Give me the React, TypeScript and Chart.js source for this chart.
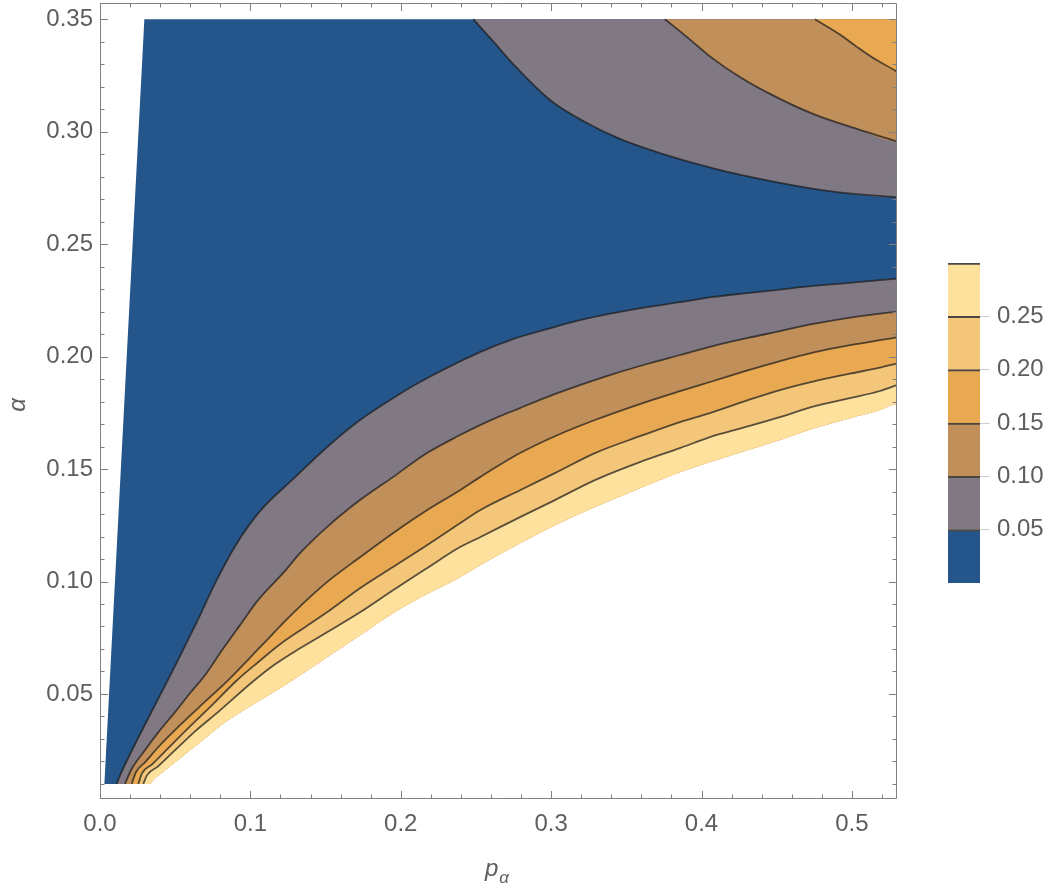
import React, { useEffect, useRef } from 'react';
import { Chart, registerables } from 'chart.js';

Chart.register(...registerables);

// ---------- data ----------
const xMajorTicks = [0, 0.1, 0.2, 0.3, 0.4, 0.5];
const yMajorTicks = [0.05, 0.1, 0.15, 0.2, 0.25, 0.3, 0.35];
const legendTicks = [0.05, 0.1, 0.15, 0.2, 0.25];
const contourLevels = [0.05, 0.1, 0.15, 0.2, 0.25, 0.3];
const bandColors = ['#24568c', '#807883', '#c18f59', '#e9a953', '#f4c679', '#fde19d'];

const leftEdge = [[0.0029, 0.01], [0.0295, 0.35]];
const lowerEdge = [[0.0332, 0.01], [0.0366, 0.0125], [0.0432, 0.0161], [0.0532, 0.0214], [0.0665, 0.0285], [0.0831, 0.0374], [0.1031, 0.0459], [0.1197, 0.0525], [0.133, 0.0583], [0.1509, 0.0663], [0.1729, 0.0761], [0.1948, 0.0859], [0.2174, 0.0944], [0.2394, 0.1019], [0.2527, 0.1072], [0.2793, 0.117], [0.3025, 0.125], [0.3291, 0.1331], [0.359, 0.1415], [0.3856, 0.1486], [0.4056, 0.1531], [0.4289, 0.158], [0.4521, 0.1629], [0.4754, 0.1682], [0.4987, 0.1726], [0.5186, 0.1762], [0.53, 0.1789]];

const lower05 = [[0.0111, 0.01], [0.0133, 0.0138], [0.018, 0.0205], [0.0266, 0.0321], [0.0399, 0.0494], [0.0532, 0.0668], [0.0652, 0.0832], [0.0765, 0.0992], [0.0898, 0.1157], [0.1064, 0.1313], [0.1283, 0.1455], [0.1509, 0.1597], [0.1729, 0.1718], [0.1948, 0.1815], [0.2128, 0.1887], [0.2527, 0.202], [0.2746, 0.2078], [0.2972, 0.2122], [0.3191, 0.2162], [0.3411, 0.2193], [0.3637, 0.222], [0.3856, 0.2242], [0.4076, 0.2265], [0.4302, 0.2282], [0.4521, 0.2298], [0.4741, 0.2314], [0.4967, 0.2327], [0.5186, 0.234], [0.53, 0.2347]];
const lower10 = [[0.0166, 0.01], [0.0206, 0.0161], [0.0299, 0.025], [0.0399, 0.0339], [0.0499, 0.0419], [0.0598, 0.0503], [0.0698, 0.0583], [0.0811, 0.0694], [0.0931, 0.0806], [0.1051, 0.0917], [0.1217, 0.1037], [0.133, 0.1126], [0.1509, 0.1242], [0.1729, 0.1362], [0.1948, 0.1464], [0.2174, 0.1571], [0.2394, 0.1651], [0.2527, 0.1695], [0.266, 0.1735], [0.2793, 0.1771], [0.2972, 0.182], [0.3191, 0.1873], [0.3411, 0.1922], [0.3637, 0.1967], [0.3856, 0.2007], [0.4076, 0.2047], [0.4302, 0.2082], [0.4521, 0.2113], [0.4741, 0.2145], [0.4967, 0.2171], [0.5186, 0.2191], [0.53, 0.2199]];
const lower15 = [[0.0211, 0.01], [0.0239, 0.0152], [0.0299, 0.0196], [0.0399, 0.0272], [0.0532, 0.0361], [0.0665, 0.0445], [0.0844, 0.0556], [0.1077, 0.0717], [0.1277, 0.0855], [0.1509, 0.0997], [0.1729, 0.1108], [0.1948, 0.1215], [0.2174, 0.1317], [0.2394, 0.1406], [0.2527, 0.1464], [0.2793, 0.1571], [0.3025, 0.1646], [0.3291, 0.1718], [0.359, 0.1789], [0.3856, 0.1846], [0.4056, 0.1887], [0.4289, 0.1935], [0.4521, 0.198], [0.4754, 0.202], [0.4987, 0.2051], [0.5186, 0.2073], [0.53, 0.2085]];
const lower20 = [[0.0255, 0.01], [0.0279, 0.0147], [0.0346, 0.0187], [0.0452, 0.0258], [0.0585, 0.0347], [0.0731, 0.0441], [0.0911, 0.0561], [0.1051, 0.0641], [0.1197, 0.0721], [0.1363, 0.0797], [0.1509, 0.0863], [0.1729, 0.097], [0.1948, 0.1064], [0.2174, 0.1161], [0.2394, 0.1259], [0.2527, 0.1317], [0.2793, 0.1406], [0.3025, 0.1482], [0.3291, 0.1571], [0.359, 0.1646], [0.3856, 0.1709], [0.4056, 0.1749], [0.4289, 0.1802], [0.4521, 0.1851], [0.4754, 0.1891], [0.4987, 0.1924], [0.5186, 0.1951], [0.53, 0.1969]];
const lower25 = [[0.0288, 0.01], [0.0312, 0.0138], [0.0386, 0.0178], [0.0499, 0.025], [0.0632, 0.0334], [0.0798, 0.0427], [0.1011, 0.0552], [0.1164, 0.0632], [0.133, 0.0703], [0.1509, 0.0774], [0.1729, 0.0863], [0.1948, 0.0961], [0.2174, 0.1059], [0.2394, 0.1153], [0.2527, 0.1197], [0.2793, 0.1286], [0.3025, 0.1362], [0.3291, 0.1451], [0.359, 0.1531], [0.3856, 0.1593], [0.4056, 0.1642], [0.4289, 0.1686], [0.4521, 0.1731], [0.4754, 0.178], [0.4987, 0.1815], [0.5186, 0.1847], [0.53, 0.1873]];

const upper05 = [[0.2482, 0.35], [0.2606, 0.3408], [0.2759, 0.3292], [0.2992, 0.3141], [0.3225, 0.3043], [0.3457, 0.2968], [0.3723, 0.2905], [0.4078, 0.2837], [0.4477, 0.2778], [0.4876, 0.2733], [0.53, 0.2708]];
const upper10 = [[0.3757, 0.35], [0.391, 0.3417], [0.4069, 0.3328], [0.4255, 0.3243], [0.4455, 0.3168], [0.4741, 0.3079], [0.5033, 0.3012], [0.53, 0.2956]];
const upper15 = [[0.4754, 0.35], [0.492, 0.3432], [0.5031, 0.3378], [0.5142, 0.3327], [0.53, 0.3267]];

const topRight = [0.53, 0.35];

// ---------- styling ----------
const FONT = "'Liberation Sans', Arial, Helvetica, sans-serif";
const TEXT = '#5e5e5e';
const FRAME = '#808080';
const LINE = 'rgba(28,28,28,0.72)';

const pts = (arr: number[][]) => arr.map(([x, y]) => ({ x, y }));
const rev = (arr: number[][]) => arr.slice().reverse();

const polygon = (arr: number[][], color: string, order: number, smooth = true) => ({
  data: pts(arr),
  showLine: true,
  fill: 'shape',
  backgroundColor: color,
  borderColor: 'rgba(0,0,0,0)',
  borderWidth: 0,
  pointRadius: 0,
  pointHoverRadius: 0,
  tension: 0,
  cubicInterpolationMode: smooth ? 'monotone' : 'default',
  order,
});

const contour = (arr: number[][], order: number) => ({
  data: pts(arr),
  showLine: true,
  fill: false,
  borderColor: LINE,
  borderWidth: 1.8,
  pointRadius: 0,
  pointHoverRadius: 0,
  tension: 0,
  cubicInterpolationMode: 'monotone',
  order,
});

const isMultiple = (v: number, step: number) => Math.abs(v / step - Math.round(v / step)) < 1e-6;

const framePlugin = {
  id: 'framePlugin',
  afterDraw(chart: any) {
    const { ctx, chartArea: a, scales } = chart;
    const xs = scales.x;
    const ys = scales.y;
    ctx.save();
    ctx.strokeStyle = FRAME;
    ctx.lineWidth = 1;
    ctx.beginPath();
    ctx.rect(Math.round(a.left) + 0.5, Math.round(a.top) + 0.5, Math.round(a.right - a.left) - 1, Math.round(a.bottom - a.top) - 1);
    ctx.stroke();
    ctx.beginPath();
    for (let i = 0; i <= 26; i++) {
      const v = i * 0.02;
      const px = Math.round(xs.getPixelForValue(v)) + 0.5;
      const len = isMultiple(v, 0.1) ? 8 : 4.5;
      ctx.moveTo(px, a.bottom);
      ctx.lineTo(px, a.bottom - len);
      ctx.moveTo(px, a.top);
      ctx.lineTo(px, a.top + len);
    }
    for (let i = 1; i <= 35; i++) {
      const v = i * 0.01;
      const py = Math.round(ys.getPixelForValue(v)) + 0.5;
      const len = isMultiple(v, 0.05) ? 8 : 4.5;
      ctx.moveTo(a.left, py);
      ctx.lineTo(a.left + len, py);
      ctx.moveTo(a.right, py);
      ctx.lineTo(a.right - len, py);
    }
    ctx.stroke();

    ctx.fillStyle = TEXT;
    ctx.save();
    ctx.translate(18, 405);
    ctx.rotate(-Math.PI / 2);
    ctx.font = `italic 24px ${FONT}`;
    ctx.textAlign = 'center';
    ctx.textBaseline = 'middle';
    ctx.fillText('α', 0, 0);
    ctx.restore();

    ctx.textAlign = 'left';
    ctx.textBaseline = 'alphabetic';
    ctx.font = `italic 24px ${FONT}`;
    const wp = ctx.measureText('p').width;
    ctx.font = `italic 17px ${FONT}`;
    const wa = ctx.measureText('α').width;
    const cx = (a.left + a.right) / 2 - 1.5;
    const start = cx - (wp + wa + 1) / 2;
    ctx.font = `italic 24px ${FONT}`;
    ctx.fillText('p', start, 876);
    ctx.font = `italic 17px ${FONT}`;
    ctx.fillText('α', start + wp + 1, 883);
    ctx.restore();
  },
};

function MainChart() {
  const ref = useRef<HTMLCanvasElement>(null);
  useEffect(() => {
    if (!ref.current) return;
    const lowers = [lower05, lower10, lower15, lower20, lower25];
    const uppers = [upper05, upper10, upper15];
    const datasets: any[] = [];
    datasets.push(polygon([...leftEdge, topRight, lower15[lower15.length - 1], ...rev(lower15)], bandColors[0], 30, false));
    lowers.forEach((c, k) => datasets.push(polygon([...c, ...rev(lowerEdge)], bandColors[k + 1], 29 - k)));
    uppers.forEach((c, k) => datasets.push(polygon([...c, topRight], bandColors[k + 1], 20 - k)));
    [...lowers, ...uppers].forEach((c) => datasets.push(contour(c, 1)));

    const chart = new Chart(ref.current, {
      type: 'scatter',
      data: { datasets },
      plugins: [framePlugin],
      options: {
        animation: false,
        responsive: false,
        devicePixelRatio: 1,
        events: [],
        layout: { padding: { left: 0, top: 3, right: 164, bottom: 0 }, autoPadding: false },
        plugins: { legend: { display: false }, tooltip: { enabled: false } },
        scales: {
          x: {
            type: 'linear',
            min: 0,
            max: 0.53,
            grid: { display: false, drawTicks: false },
            border: { display: false },
            afterBuildTicks: (s: any) => { s.ticks = xMajorTicks.map((v) => ({ value: v })); },
            afterFit: (s: any) => { s.height = 89; s.paddingLeft = 0; s.paddingRight = 0; },
            ticks: {
              autoSkip: false,
              maxRotation: 0,
              padding: 11,
              color: TEXT,
              font: { family: FONT, size: 24 },
              callback: (v: any) => Number(v).toFixed(1),
            },
          },
          y: {
            type: 'linear',
            min: 0.0033,
            max: 0.3572,
            grid: { display: false, drawTicks: false },
            border: { display: false },
            afterBuildTicks: (s: any) => { s.ticks = yMajorTicks.map((v) => ({ value: v })); },
            afterFit: (s: any) => { s.width = 100; s.paddingTop = 0; s.paddingBottom = 0; },
            ticks: {
              autoSkip: false,
              padding: 7,
              color: TEXT,
              font: { family: FONT, size: 24 },
              callback: (v: any) => Number(v).toFixed(2),
            },
          },
        },
      } as any,
    });
    return () => chart.destroy();
  }, []);
  return (
    <canvas
      ref={ref}
      width={1061}
      height={888}
      style={{ position: 'absolute', left: 0, top: 0, width: 1061, height: 888 }}
    />
  );
}

function ColorBar() {
  const ref = useRef<HTMLCanvasElement>(null);
  useEffect(() => {
    if (!ref.current) return;
    const datasets = contourLevels.map((lvl, i) => ({
      data: [+(lvl - (i > 0 ? contourLevels[i - 1] : 0)).toFixed(4)],
      backgroundColor: bandColors[i],
      borderColor: '#4b463f',
      borderWidth: { top: 2, left: 0, right: 0, bottom: 0 },
      borderSkipped: false,
      barPercentage: 1,
      categoryPercentage: 1,
    }));
    const chart = new Chart(ref.current, {
      type: 'bar',
      data: { labels: [''], datasets },
      options: {
        animation: false,
        responsive: false,
        devicePixelRatio: 1,
        events: [],
        layout: { padding: { left: 8, top: 13, right: 0, bottom: 17 }, autoPadding: false },
        plugins: { legend: { display: false }, tooltip: { enabled: false } },
        scales: {
          x: { stacked: true, display: false },
          y: {
            stacked: true,
            position: 'right',
            min: 0,
            max: 0.3,
            border: { display: false },
            grid: { drawOnChartArea: false, drawTicks: true, tickLength: 10, color: '#d0d0d0', lineWidth: 1 },
            afterBuildTicks: (s: any) => { s.ticks = legendTicks.map((v) => ({ value: v })); },
            afterFit: (s: any) => { s.width = 70; s.paddingTop = 0; s.paddingBottom = 0; },
            ticks: {
              autoSkip: false,
              padding: 7,
              color: TEXT,
              font: { family: FONT, size: 24 },
              callback: (v: any) => Number(v).toFixed(2),
            },
          },
        },
      } as any,
    });
    return () => chart.destroy();
  }, []);
  return (
    <canvas
      ref={ref}
      width={110}
      height={350}
      style={{ position: 'absolute', left: 940, top: 250, width: 110, height: 350 }}
    />
  );
}

export default function App() {
  return (
    <div style={{ position: 'absolute', left: 0, top: 0, width: 1061, height: 888, background: '#fff', overflow: 'hidden' }}>
      <MainChart />
      <ColorBar />
    </div>
  );
}
